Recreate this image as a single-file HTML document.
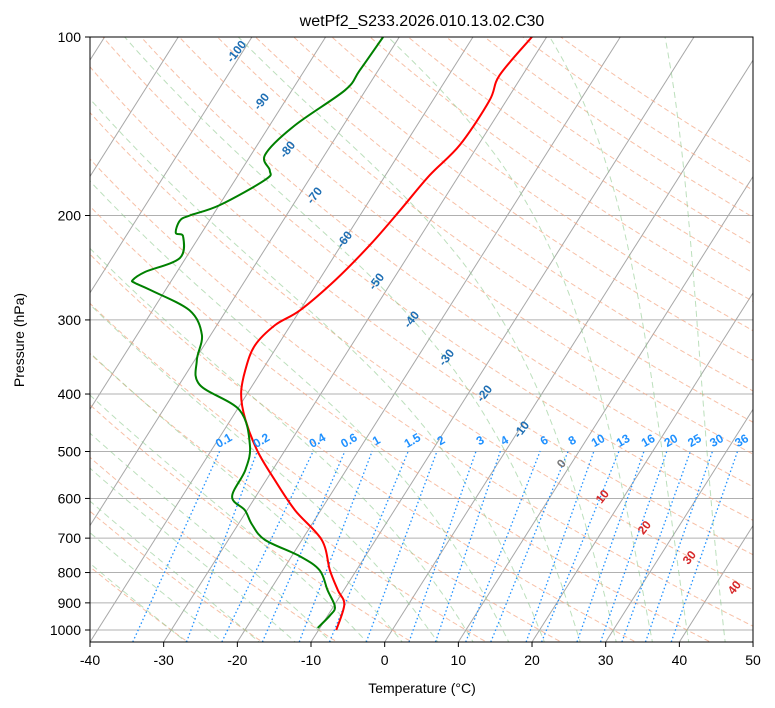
<!DOCTYPE html>
<html><head><meta charset="utf-8">
<style>
body{margin:0;background:#fff;}
svg{display:block;font-family:"Liberation Sans","DejaVu Sans",sans-serif;}
</style></head>
<body>
<svg id="chart" width="775" height="708" viewBox="0 0 775 708" xmlns="http://www.w3.org/2000/svg">
<defs><clipPath id="plotclip"><rect x="90" y="37" width="663" height="605"/></clipPath></defs>
<rect width="775" height="708" fill="#fff"/>
<text x="422" y="26" text-anchor="middle" font-size="16" fill="#000">wetPf2_S233.2026.010.13.02.C30</text>
<g id="grid" clip-path="url(#plotclip)"></g>
<g id="labels"></g>
<rect x="90" y="37" width="663" height="605" fill="none" stroke="#000" stroke-width="1"/>
<g id="axes"></g>
<text x="422" y="693" text-anchor="middle" font-size="14">Temperature (°C)</text>
<text x="24" y="340" text-anchor="middle" font-size="14" transform="rotate(-90 24 340)">Pressure (hPa)</text>
</svg>
<script>
const tempPressures=[1000,906,857,793,705,628,559,500,442,400,364,331,306,289,257,224,196,171,152,128,116,100];
const tempValues=[-7.6,-8.7,-10.8,-13.6,-17.3,-23.5,-28.8,-33.6,-38,-40.8,-42.3,-43.1,-42.1,-40,-37.8,-36.1,-35,-34,-32.5,-32.3,-33.1,-32];
const dewPressures=[992,944,913,857,793,750,705,664,628,596,537,488,426,386,351,318,289,267,260,257,249,236,217,214,204,200,192,174,168,158,141,123,114,100];
const dewValues=[-10.3,-9.7,-9.8,-12.2,-15,-19,-25,-28.1,-30.3,-33.2,-33.7,-35.2,-39.6,-47.2,-49.7,-51.2,-55,-62.1,-64.7,-65.3,-64.3,-60.8,-62.2,-63.5,-64,-63.1,-59.9,-55.9,-56.1,-58.1,-56.6,-52.8,-52.5,-52.2];
const xTicks=[-40,-30,-20,-10,0,10,20,30,40,50];
const pTicks=[1000,900,800,700,600,500,400,300,200,100];
const mixingRatios=[0.1,0.2,0.4,0.6,1,1.5,2,3,4,6,8,10,13,16,20,25,30,36];
// dewpoint-like temperatures (°C) of each mixing-ratio line at the top (500 hPa) and bottom of the plot
const mixTopT=[-38.8,-33.7,-26.1,-21.8,-18.1,-13.2,-9.3,-4.0,-0.7,4.7,8.5,12.0,15.4,18.8,21.9,25.1,28.1,31.5];
const mixBottomT=[-34.2,-26.9,-22.1,-16.6,-11.6,-7.5,-2.5,3.3,6.9,11.0,14.4,19.2,21.3,26.1,29.3,32.2,35.4,38.9];
const isothermLabels=[-100,-90,-80,-70,-60,-50,-40,-30,-20,-10,0,10,20,30,40];
const isoLabelX=[237,262,288,315,345,377,412,447,485,522,562,603,645,690,735];
const isoLabelY=[52,102,150,196,240,282,320,358,394,430,464,497,528,558,588];

const NS="http://www.w3.org/2000/svg";
function yOf(p){return 37+593*Math.log10(p/100);}
function xOf(T,p){return 90+(T+40)*7.367+0.633*(642-yOf(p));}
function xAt(T,y){return 90+(T+40)*7.367+0.633*(642-y);}
function mk(tag,attrs,parent){const e=document.createElementNS(NS,tag);for(const k in attrs)e.setAttribute(k,attrs[k]);parent.appendChild(e);return e;}
const grid=document.getElementById('grid'),labels=document.getElementById('labels'),axes=document.getElementById('axes');
function pathFrom(pts){return pts.map((q,i)=>(i?'L':'M')+q[0].toFixed(1)+','+q[1].toFixed(1)).join('');}
function smoothPath(pts){
  let d='M'+pts[0][0].toFixed(1)+','+pts[0][1].toFixed(1);
  for(let i=0;i<pts.length-1;i++){
    const p0=pts[Math.max(0,i-1)],p1=pts[i],p2=pts[i+1],p3=pts[Math.min(pts.length-1,i+2)];
    const c1=[p1[0]+(p2[0]-p0[0])/6,p1[1]+(p2[1]-p0[1])/6],c2=[p2[0]-(p3[0]-p1[0])/6,p2[1]-(p3[1]-p1[1])/6];
    d+='C'+c1[0].toFixed(1)+','+c1[1].toFixed(1)+' '+c2[0].toFixed(1)+','+c2[1].toFixed(1)+' '+p2[0].toFixed(1)+','+p2[1].toFixed(1);
  }
  return d;
}
const plist=[];for(let p=1060;p>=95;p-=5)plist.push(p);

pTicks.forEach(p=>{
  const l=mk('line',{x1:90,x2:753,y1:yOf(p),y2:yOf(p),stroke:'#b0b0b0','stroke-width':1},grid);
  
  
});
for(let T=-160;T<=50;T+=10){
  const l=mk('line',{x1:xOf(T,1060),y1:yOf(1060),x2:xOf(T,95),y2:yOf(95),stroke:'#a8a8a8','stroke-width':1},grid);
  
  
}
for(let th=-30;th<=200;th+=10){
  const pts=plist.map(p=>{const T=(th+273.15)*Math.pow(p/1000,0.2857)-273.15;return [xOf(T,p),yOf(p)];});
  const e=mk('path',{d:pathFrom(pts),fill:'none',stroke:'#f4a582','stroke-width':1,'stroke-dasharray':'5,3',opacity:0.7},grid);
  
  
}
function es(T){return 6.112*Math.exp(17.67*T/(T+243.5));}
for(let T0=-30;T0<=45;T0+=5){
  let T=T0+273.15,p=1000;const pts=[];
  let Td=T,pd=1000;const down=[];
  while(pd<1060){const rs=0.622*es(Td-273.15)/(pd-es(Td-273.15));const dT=(287*Td+2.5e6*rs)/(1004+2.5e6*2.5e6*rs*0.622/(287*Td*Td))/pd;Td+=dT*2;pd+=2;down.push([xOf(Td-273.15,pd),yOf(pd)]);}
  down.reverse().forEach(q=>pts.push(q));
  pts.push([xOf(T-273.15,p),yOf(p)]);
  while(p>100){const rs=0.622*es(T-273.15)/Math.max(p-es(T-273.15),1);const dT=(287*T+2.5e6*rs)/(1004+2.5e6*2.5e6*rs*0.622/(287*T*T))/p;T-=dT*2;p-=2;pts.push([xOf(T-273.15,p),yOf(p)]);}
  const e=mk('path',{d:pathFrom(pts),fill:'none',stroke:'#8fc98f','stroke-width':1,'stroke-dasharray':'6,4',opacity:0.6},grid);
  
  
}
mixingRatios.forEach((w,i)=>{
  const x1=xAt(mixBottomT[i],642),x2=xAt(mixTopT[i],451);
  const e=mk('line',{x1:x1,y1:642,x2:x2,y2:451,stroke:'#1e90ff','stroke-width':1.3,'stroke-dasharray':'1.5,2.5'},grid);
  
  
  const x=x2+6,y=444;
  const t=mk('text',{x:x,y:y,'font-size':12,'font-weight':'bold',fill:'#1e90ff','text-anchor':'middle',transform:`rotate(-30 ${x} ${y})`},labels);
  t.textContent=String(w);
  
  
});
isothermLabels.forEach((T,i)=>{
  const x=isoLabelX[i],y=isoLabelY[i];
  const col=T<0?'#1f6fb4':(T===0?'#777':'#d62728');
  const t=mk('text',{x:x,y:y,'font-size':12,'font-weight':'bold',fill:col,'text-anchor':'middle','dominant-baseline':'middle',transform:`rotate(-52 ${x} ${y})`},labels);
  t.textContent=String(T);
  
  
});
const tp=mk('path',{d:smoothPath(tempPressures.map((p,i)=>[xOf(tempValues[i],p),yOf(p)])),fill:'none',stroke:'#ff0000','stroke-width':2,'stroke-linejoin':'round'},grid);


const dp=mk('path',{d:smoothPath(dewPressures.map((p,i)=>[xOf(dewValues[i],p),yOf(p)])),fill:'none',stroke:'#008000','stroke-width':2,'stroke-linejoin':'round'},grid);


xTicks.forEach(T=>{
  const x=90+(T+40)*7.367;
  const l=mk('line',{x1:x,x2:x,y1:642,y2:647,stroke:'#000'},axes);
  
  
  const t=mk('text',{x:x,y:665,'font-size':14,'text-anchor':'middle'},axes);
  t.textContent=String(T);
  
  
});
pTicks.forEach(p=>{
  const y=yOf(p);
  const l=mk('line',{x1:85,x2:90,y1:y,y2:y,stroke:'#000'},axes);
  
  
  const t=mk('text',{x:81,y:y+5,'font-size':14,'text-anchor':'end'},axes);
  t.textContent=String(p);
  
  
});
</script>
</body></html>
